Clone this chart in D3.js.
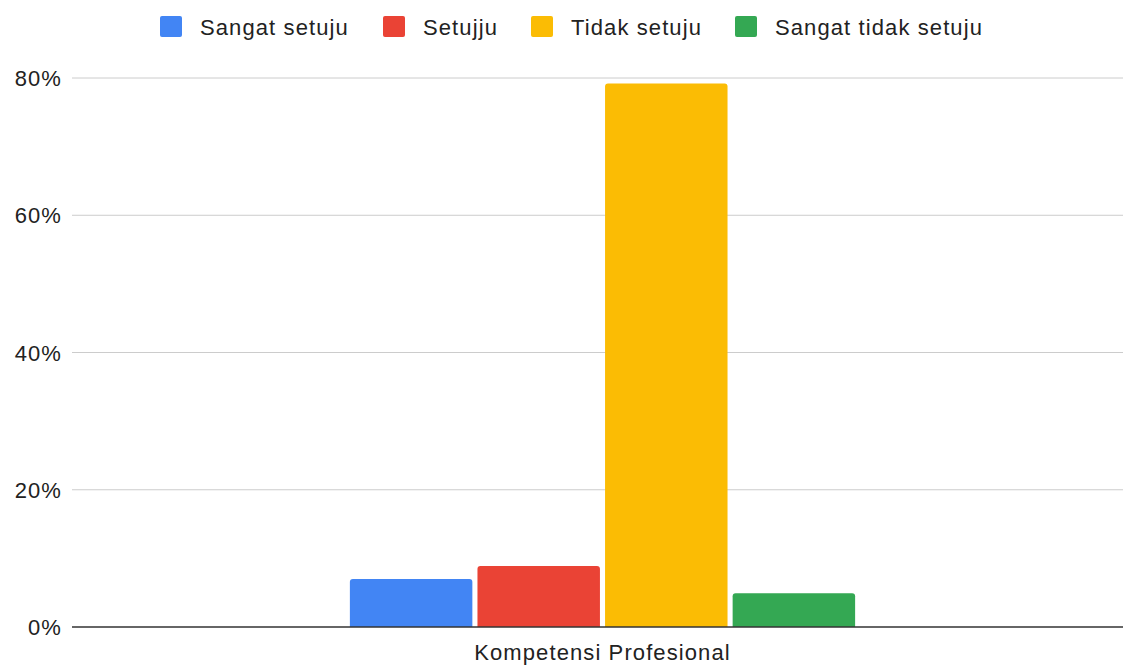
<!DOCTYPE html>
<html>
<head>
    <title>Kompetensi Profesional</title>
    <script src="https://cdn.jsdelivr.net/npm/d3@7"></script>
    <style>
        body { margin: 0; background: #fff; }
        text { font-family: "Liberation Sans", Arial, sans-serif; fill: #222; letter-spacing: 1.1px; }
    </style>
</head>
<body>
    <svg width="1123" height="665" id="mainsvg"></svg>
    <script>
        const categories = ['Kompetensi Profesional'];
        const seriesNames = ['Sangat setuju', 'Setujju', 'Tidak setuju', 'Sangat tidak setuju'];
        const seriesValues = [7.0, 8.9, 79.2, 4.9];
        const seriesColors = ['#4285f4', '#ea4335', '#fbbc04', '#34a853'];
        const yTicks = [0, 20, 40, 60, 80];

        const svg = d3.select('svg');
        const width = +svg.attr('width');
        const height = +svg.attr('height');
        const margin = { top: 78, right: -10, bottom: 38, left: 72 };
        const FONT = 22;

        const x0 = d3.scaleBand().domain(categories)
            .range([margin.left, width - margin.right]).paddingInner(0).paddingOuter(0.55);
        const x1 = d3.scaleBand().domain(seriesNames)
            .range([0, x0.bandwidth()]).paddingInner(0.04);
        const y = d3.scaleLinear().domain([0, 80]).range([height - margin.bottom, margin.top]);

        // gridlines
        svg.selectAll('.grid').data(yTicks.filter(d => d > 0)).join('line').attr('class', 'grid')
            .attr('x1', margin.left).attr('x2', width)
            .attr('y1', y).attr('y2', y)
            .attr('stroke', '#cccccc').attr('stroke-width', 1);

        // y labels
        svg.selectAll('.ylab').data(yTicks).join('text').attr('class', 'ylab')
            .attr('x', 62).attr('y', d => y(d) + 8)
            .attr('text-anchor', 'end').attr('font-size', FONT)
            .text(d => d + '%');

        // bars
        const group = svg.selectAll('.grp').data(categories).join('g').attr('class', 'grp')
            .attr('transform', d => `translate(${x0(d)},0)`);
        group.selectAll('path').data(seriesNames.map((s, i) => ({ s, v: seriesValues[i], c: seriesColors[i] })))
            .join('path')
            .attr('fill', d => d.c)
            .attr('d', d => {
                const bx = x1(d.s), bw = x1.bandwidth(), top = y(d.v), base = y(0), r = 3;
                return `M${bx},${base} V${top + r} Q${bx},${top} ${bx + r},${top} H${bx + bw - r} Q${bx + bw},${top} ${bx + bw},${top + r} V${base} Z`;
            });

        // baseline
        svg.append('line')
            .attr('x1', margin.left).attr('x2', width)
            .attr('y1', y(0)).attr('y2', y(0))
            .attr('stroke', '#333').attr('stroke-width', 1.5);

        // x label
        svg.selectAll('.xlab').data(categories).join('text').attr('class', 'xlab')
            .attr('x', d => x0(d) + x0.bandwidth() / 2).attr('y', height - 5)
            .attr('text-anchor', 'middle').attr('font-size', FONT)
            .text(d => d);

        // legend
        const legendX = [160, 383, 531, 735];
        const legend = svg.selectAll('.leg').data(seriesNames).join('g').attr('class', 'leg')
            .attr('transform', (d, i) => `translate(${legendX[i]},16)`);
        legend.append('rect').attr('width', 22).attr('height', 21).attr('rx', 2)
            .attr('fill', (d, i) => seriesColors[i]);
        legend.append('text')
            .attr('x', 40).attr('y', 19)
            .attr('font-size', FONT)
            .text(d => d);
    </script>
</body>
</html>
